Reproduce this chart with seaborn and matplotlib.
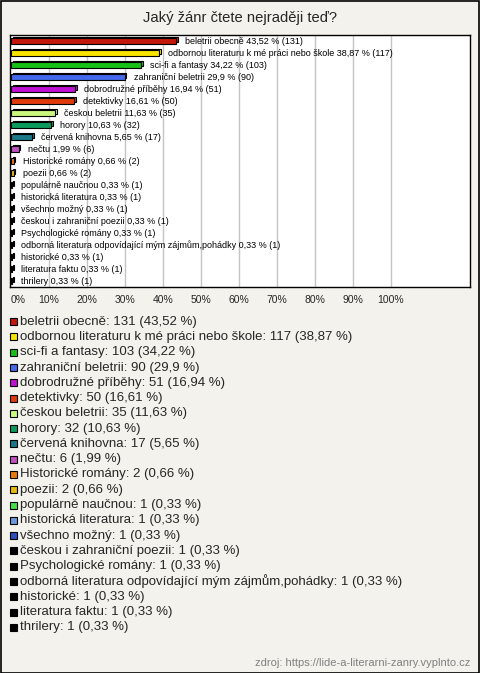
import matplotlib
matplotlib.use("Agg")
import matplotlib.pyplot as plt
import seaborn as sns
import pandas as pd
from matplotlib.patches import Rectangle
from matplotlib.transforms import ScaledTranslation

categories = [
    "beletrii obecně",
    "odbornou literaturu k mé práci nebo škole",
    "sci-fi a fantasy",
    "zahraniční beletrii",
    "dobrodružné příběhy",
    "detektivky",
    "českou beletrii",
    "horory",
    "červená knihovna",
    "nečtu",
    "Historické romány",
    "poezii",
    "populárně naučnou",
    "historická literatura",
    "všechno možný",
    "českou i zahraniční poezii",
    "Psychologické romány",
    "odborná literatura odpovídající mým zájmům,pohádky",
    "historické",
    "literatura faktu",
    "thrilery",
]
counts = [131, 117, 103, 90, 51, 50, 35, 32, 17, 6, 2, 2, 1, 1, 1, 1, 1, 1, 1, 1, 1]
percents = [43.52, 38.87, 34.22, 29.9, 16.94, 16.61, 11.63, 10.63, 5.65, 1.99,
            0.66, 0.66, 0.33, 0.33, 0.33, 0.33, 0.33, 0.33, 0.33, 0.33, 0.33]
colors = ["#c4180c", "#f8e400", "#16c016", "#4468ec", "#c010d4", "#e03a0a",
          "#c8f87c", "#0c9a5c", "#1a7888", "#c050c0", "#e87810", "#e8b812",
          "#44e044", "#6a98e0", "#2a4ec0", "#000000", "#000000", "#000000",
          "#000000", "#000000", "#000000"]
title = "Jaký žánr čtete nejraději teď?"
source = "zdroj: https://lide-a-literarni-zanry.vyplnto.cz"
xticks = list(range(0, 101, 10))

def fmt(p):
    return f"{p:g}".replace(".", ",")

df = pd.DataFrame({"cat": categories, "pct": percents, "n": counts})

W, H = 480, 673
BG = "#f3f2ec"
fig = plt.figure(figsize=(W / 100, H / 100), dpi=100, facecolor=BG)
sns.set_style("white")
plt.rcParams["font.family"] = ["Liberation Sans", "DejaVu Sans"]

ax = fig.add_axes([10 / W, 1 - 287 / H, 460 / W, 252 / H])
ax.set_facecolor("white")

# back (3D depth) layer
sns.barplot(data=df, x="pct", y="cat", hue="cat", palette=colors, legend=False,
            orient="h", width=0.42, edgecolor="black", linewidth=0.8, ax=ax,
            saturation=1)
n_back = len(ax.patches)
off = ScaledTranslation(1.8 / 100, 1.8 / 100, fig.dpi_scale_trans)
for p in ax.patches[:n_back]:
    p.set_transform(ax.transData + off)
# front layer
sns.barplot(data=df, x="pct", y="cat", hue="cat", palette=colors, legend=False,
            orient="h", width=0.42, edgecolor="black", linewidth=0.8, ax=ax,
            saturation=1)

ax.set_xlim(-1 / 3.8, 459 / 3.8)
ax.set_ylim(len(categories) - 0.5, -0.5)
ax.set_xticks(xticks)
ax.set_xticklabels([f"{v}%" for v in xticks], fontsize=7.5)
ax.get_xticklabels()[0].set_ha("left")
ax.tick_params(axis="x", length=0, pad=6)
ax.set_yticks([])
ax.set_xlabel("")
ax.set_ylabel("")
for v in xticks[1:]:
    ax.axvline(v, color="#c4c4c4", lw=1, zorder=0)
for s in ax.spines.values():
    s.set_color("black")
    s.set_linewidth(1)
    s.set_visible(True)

lab_off = ScaledTranslation(9 / 100, 0, fig.dpi_scale_trans)
for i, (c, p, n) in enumerate(zip(categories, percents, counts)):
    ax.text(p, i, f"{c} {fmt(p)} % ({n})", fontsize=6.5, va="center", ha="left",
            transform=ax.transData + lab_off, color="black")

fig.text(240 / W, 1 - 18 / H, title, ha="center", va="center", fontsize=10.6)

# legend
y0, step = 321.7, 15.28
for i, (c, p, n, col) in enumerate(zip(categories, percents, counts, colors)):
    yc = y0 + i * step
    fig.patches.append(Rectangle((10 / W, 1 - (yc + 3.5) / H), 7 / W, 7 / H,
                                 transform=fig.transFigure, facecolor=col,
                                 edgecolor="black", linewidth=0.8))
    fig.text(20 / W, 1 - yc / H, f"{c}: {n} ({fmt(p)} %)", ha="left",
             va="center", fontsize=9.5)

fig.text(470 / W, 1 - 662.5 / H, source, ha="right", va="center",
         fontsize=8, color="#808080")

fig.patches.append(Rectangle((0.5 / W, 0.5 / H), (W - 1.5) / W, (H - 1.5) / H,
                             transform=fig.transFigure, fill=False,
                             edgecolor="black", linewidth=1.2))

fig.savefig("out.png", dpi=100, facecolor=BG)
